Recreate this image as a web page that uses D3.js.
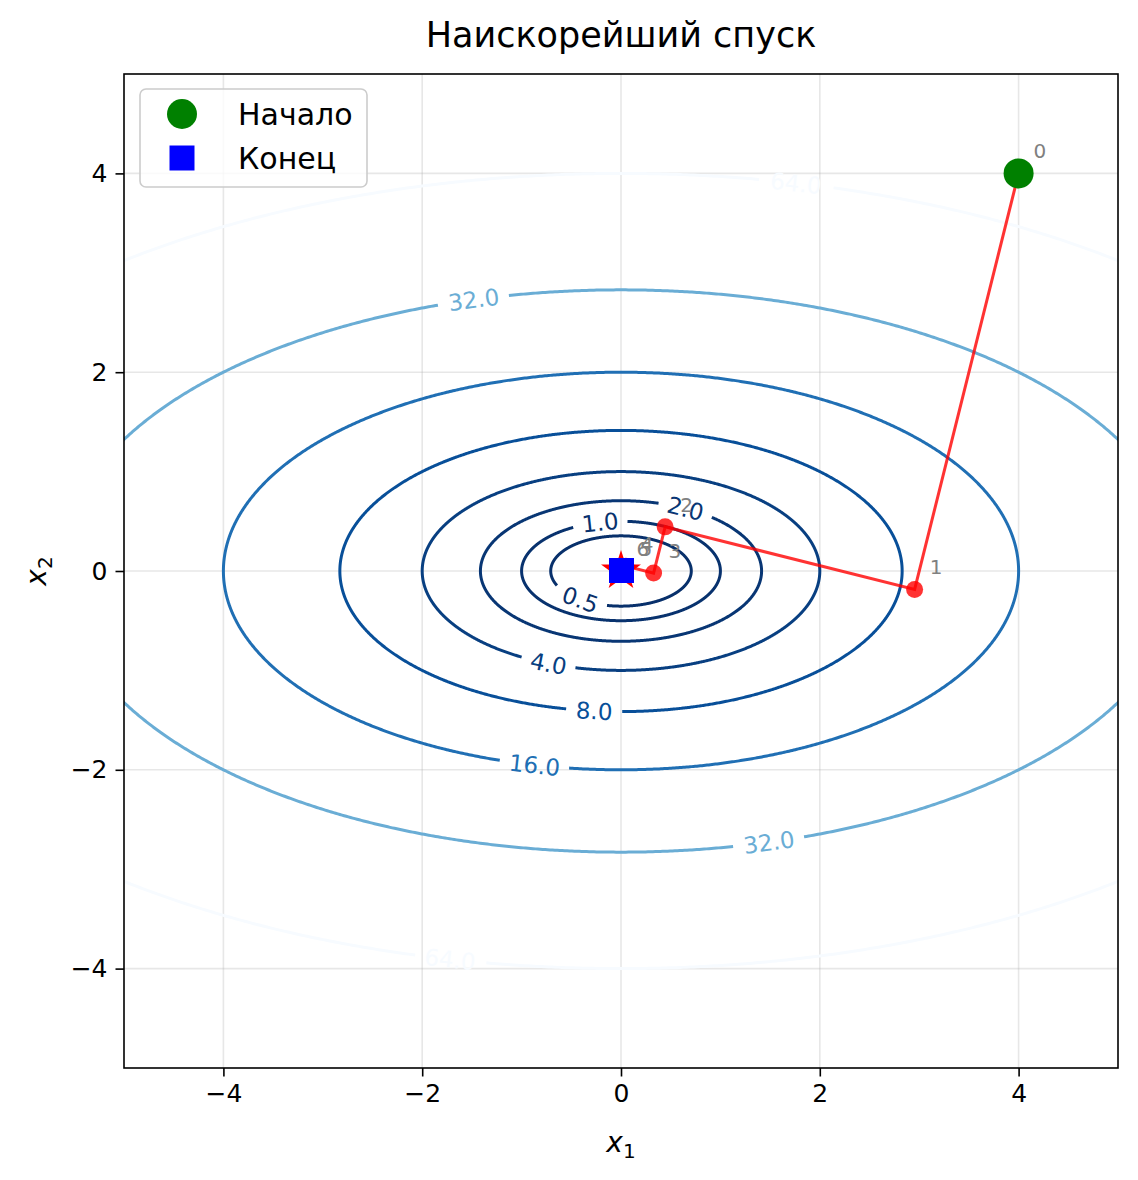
<!DOCTYPE html>
<html>
<head>
<meta charset="utf-8">
<script src="https://cdn.jsdelivr.net/npm/d3@7"></script>
<style>
  body { margin: 0; background: #fff; }
  svg text { font-family: "DejaVu Sans", sans-serif; }
</style>
</head>
<body>
<svg id="chart" width="1138" height="1180"></svg>
<script>
// f(x) = x1^2 + 4*x2^2, contour levels
var levels = [0.5, 1, 2, 4, 8, 16, 32, 64];
var coefX1 = 1, coefX2 = 4;

// where the inline contour labels sit (level, x1, upper/lower half)
var clabelLevel = [0.5, 1, 2, 4, 8, 16, 32, 32, 64, 64];
var clabelX1 = [-0.41, -0.21, 0.65, -0.73, -0.27, -0.87, -1.48, 1.49, 1.76, -1.72];
var clabelSide = [-1, 1, 1, -1, -1, -1, 1, -1, 1, -1];

// steepest descent iterates
var pathX1 = [4, 2.954, 0.444, 0.328, 0.049, 0.036, 0.005];
var pathX2 = [4, -0.185, 0.444, -0.021, 0.049, -0.002, 0.005];
var minimum = [0, 0];

var ticks = [-4, -2, 0, 2, 4];
var legendNames = ["Начало", "Конец"];
var title = "Наискорейший спуск";

var svg = d3.select('#chart');
// plot box (window.top is reserved, so no plain "top")
var pL = 124, pR = 1118, pT = 74, pB = 1068;

var x = d3.scaleLinear().domain([-5, 5]).range([pL, pR]);
var y = d3.scaleLinear().domain([-5, 5]).range([pB, pT]);

// Blues_r, normed over the level range like matplotlib does
var blues = d3.scaleLinear()
  .domain([0, 0.125, 0.25, 0.375, 0.5, 0.625, 0.75, 0.875, 1])
  .range(['#f7fbff', '#deebf7', '#c6dbef', '#9ecae1', '#6baed6', '#4292c6', '#2171b5', '#08519c', '#08306b']);
var norm = d3.scaleLinear().domain([d3.min(levels), d3.max(levels)]).range([1, 0]);
var levelColor = function(c) { return blues(norm(c)); };

svg.append('defs').append('clipPath').attr('id', 'plotclip')
  .append('rect').attr('x', pL).attr('y', pT).attr('width', pR - pL).attr('height', pB - pT);

// grid
var grid = svg.append('g');
ticks.forEach(function(t) {
  grid.append('line').attr('x1', x(t)).attr('x2', x(t)).attr('y1', pT).attr('y2', pB)
    .attr('stroke', '#b0b0b0').attr('stroke-opacity', 0.3).attr('stroke-width', 1.6);
  grid.append('line').attr('y1', y(t)).attr('y2', y(t)).attr('x1', pL).attr('x2', pR)
    .attr('stroke', '#b0b0b0').attr('stroke-opacity', 0.3).attr('stroke-width', 1.6);
});

// ---- contours ----
var cg = svg.append('g').attr('clip-path', 'url(#plotclip)');
var lblFont = 23;

// labels first so we know how wide the gaps must be
var labels = clabelLevel.map(function(c, i) {
  var a = Math.sqrt(c / coefX1), b = Math.sqrt(c / coefX2);
  var x1 = clabelX1[i];
  var x2 = clabelSide[i] * Math.sqrt(Math.max(0, (c - coefX1 * x1 * x1) / coefX2));
  var t = Math.atan2(x2 / b, x1 / a);
  var px = -a * Math.sin(t) * (x(1) - x(0));
  var py = b * Math.cos(t) * (y(1) - y(0));
  var ang = Math.atan2(py, px) * 180 / Math.PI;
  if (ang > 90) ang -= 180;
  if (ang <= -90) ang += 180;
  return { level: c, cx: x(x1), cy: y(x2), angle: ang };
});

var lblSel = cg.selectAll('text.clabel').data(labels).enter().append('text')
  .attr('class', 'clabel')
  .attr('transform', function(d) { return 'translate(' + d.cx + ',' + d.cy + ') rotate(' + d.angle + ')'; })
  .attr('text-anchor', 'middle')
  .attr('dy', '0.36em')
  .attr('font-size', lblFont)
  .attr('fill', function(d) { return levelColor(d.level); })
  .text(function(d) { return d.level.toFixed(1); });

lblSel.each(function(d) { d.half = this.getComputedTextLength() / 2 + 9; });

var line = d3.line()
  .defined(function(p) { return p.on; })
  .x(function(p) { return p.px; })
  .y(function(p) { return p.py; });

levels.forEach(function(c) {
  var a = Math.sqrt(c / coefX1), b = Math.sqrt(c / coefX2);
  var myLabels = labels.filter(function(l) { return l.level == c; });
  var pts = d3.range(0, 1441).map(function(k) {
    var t = k / 1440 * 2 * Math.PI;
    var p = { px: x(a * Math.cos(t)), py: y(b * Math.sin(t)), on: true };
    myLabels.forEach(function(l) {
      if (Math.hypot(p.px - l.cx, p.py - l.cy) < l.half) p.on = false;
    });
    return p;
  });
  cg.insert('path', 'text')
    .attr('d', line(pts))
    .attr('fill', 'none')
    .attr('stroke', levelColor(c))
    .attr('stroke-width', 3);
});

// ---- descent path ----
var iters = pathX1.map(function(v, i) { return { i: i, x1: v, x2: pathX2[i] }; });

svg.append('path')
  .attr('d', d3.line().x(function(d) { return x(d.x1); }).y(function(d) { return y(d.x2); })(iters))
  .attr('fill', 'none').attr('stroke', 'red').attr('stroke-opacity', 0.8).attr('stroke-width', 3);

svg.selectAll('circle.iter').data(iters).enter().append('circle')
  .attr('class', 'iter')
  .attr('cx', function(d) { return x(d.x1); })
  .attr('cy', function(d) { return y(d.x2); })
  .attr('r', 8.5)
  .attr('fill', 'red').attr('fill-opacity', 0.8);

svg.selectAll('text.iter').data(iters).enter().append('text')
  .attr('class', 'iter')
  .attr('x', function(d) { return x(d.x1) + 15; })
  .attr('y', function(d) { return y(d.x2) - 15; })
  .attr('font-size', 20)
  .attr('fill', 'gray')
  .text(function(d) { return d.i; });

// true minimum star, start, end
svg.append('path')
  .attr('d', d3.symbol(d3.symbolStar, 495)())
  .attr('transform', 'translate(' + x(minimum[0]) + ',' + y(minimum[1]) + ')')
  .attr('fill', 'red');

var first = iters[0], last = iters[iters.length - 1];
svg.append('path')
  .attr('d', d3.symbol(d3.symbolCircle, Math.PI * 15 * 15)())
  .attr('transform', 'translate(' + x(first.x1) + ',' + y(first.x2) + ')')
  .attr('fill', 'green');
svg.append('path')
  .attr('d', d3.symbol(d3.symbolSquare, 625)())
  .attr('transform', 'translate(' + x(last.x1) + ',' + y(last.x2) + ')')
  .attr('fill', 'blue');

// ---- axes ----
var fmt = function(d) { return d < 0 ? '\u2212' + Math.abs(d) : '' + d; };
var xAxis = svg.append('g').attr('transform', 'translate(0,' + pB + ')')
  .call(d3.axisBottom(x).tickValues(ticks).tickFormat(fmt).tickSize(8.5).tickPadding(8));
var yAxis = svg.append('g').attr('transform', 'translate(' + pL + ',0)')
  .call(d3.axisLeft(y).tickValues(ticks).tickFormat(fmt).tickSize(8.5).tickPadding(8));
[xAxis, yAxis].forEach(function(ax) {
  ax.select('.domain').remove();
  ax.selectAll('line').attr('stroke', '#000').attr('stroke-width', 1.6);
  ax.selectAll('text').attr('font-size', 25).attr('fill', '#000').attr('font-family', 'DejaVu Sans');
});

svg.append('rect').attr('x', pL).attr('y', pT).attr('width', pR - pL).attr('height', pB - pT)
  .attr('fill', 'none').attr('stroke', '#000').attr('stroke-width', 1.6);

var xl = svg.append('text').attr('x', x(0)).attr('y', 1152).attr('text-anchor', 'middle').attr('font-size', 28);
xl.append('tspan').attr('font-style', 'italic').text('x');
xl.append('tspan').attr('font-size', 20).attr('dy', 6).text('1');

var yl = svg.append('text').attr('transform', 'translate(46,' + y(0) + ') rotate(-90)')
  .attr('text-anchor', 'middle').attr('font-size', 28);
yl.append('tspan').attr('font-style', 'italic').text('x');
yl.append('tspan').attr('font-size', 20).attr('dy', 6).text('2');

svg.append('text').attr('x', x(0)).attr('y', 47).attr('text-anchor', 'middle')
  .attr('font-size', 35).text(title);

// ---- legend ----
var lg = svg.append('g');
lg.append('rect').attr('x', 140).attr('y', 89).attr('width', 227).attr('height', 98).attr('rx', 6)
  .attr('fill', '#fff').attr('fill-opacity', 0.8).attr('stroke', '#cccccc').attr('stroke-width', 1.6);
lg.append('path').attr('d', d3.symbol(d3.symbolCircle, Math.PI * 15 * 15)())
  .attr('transform', 'translate(182,114)').attr('fill', 'green');
lg.append('path').attr('d', d3.symbol(d3.symbolSquare, 625)())
  .attr('transform', 'translate(182,158)').attr('fill', 'blue');
lg.selectAll('text').data(legendNames).enter().append('text')
  .attr('x', 238).attr('y', function(d, i) { return 125 + i * 44; })
  .attr('font-size', 30).text(function(d) { return d; });
</script>
</body>
</html>
